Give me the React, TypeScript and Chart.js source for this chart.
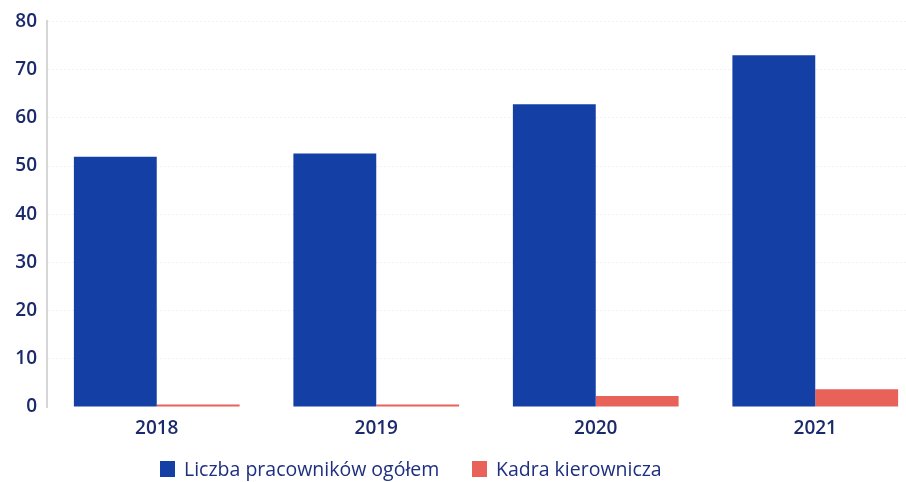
import React, { useEffect, useRef } from "react";
import { Chart, registerables } from "chart.js";

Chart.register(...registerables);

const categories = ["2018", "2019", "2020", "2021"];
const totalEmployees = [51.9, 52.6, 62.8, 73.0];
const management = [0.5, 0.5, 2.3, 3.7];
const seriesNames = ["Liczba pracowników ogółem", "Kadra kierownicza"];
const yTicks = [0, 10, 20, 30, 40, 50, 60, 70, 80];

const BLUE = "#1440a6";
const RED = "#e8625a";
const NAVY = "#1b2a6b";

export default function App() {
  const ref = useRef<HTMLCanvasElement | null>(null);

  useEffect(() => {
    if (!ref.current) return;
    const chart = new Chart(ref.current, {
      type: "bar",
      data: {
        labels: categories,
        datasets: [
          {
            label: seriesNames[0],
            data: totalEmployees,
            backgroundColor: BLUE,
            borderWidth: 0,
            categoryPercentage: 0.755,
            barPercentage: 1,
          },
          {
            label: seriesNames[1],
            data: management,
            backgroundColor: RED,
            borderWidth: 0,
            categoryPercentage: 0.755,
            barPercentage: 1,
          },
        ],
      },
      options: {
        animation: false,
        responsive: false,
        maintainAspectRatio: false,
        layout: { padding: { top: 20, right: 0, bottom: 0, left: 0 } },
        plugins: {
          legend: { display: false },
          tooltip: { enabled: false },
        },
        scales: {
          x: {
            grid: { display: false, drawTicks: false },
            border: { display: false },
            ticks: {
              color: NAVY,
              padding: 10,
              font: { family: "Open Sans", size: 19, weight: "600" },
            },
            afterFit: (scale: any) => {
              scale.height = 75;
            },
          },
          y: {
            min: 0,
            max: 80,
            afterBuildTicks: (scale: any) => {
              scale.ticks = yTicks.map((v) => ({ value: v }));
            },
            grid: {
              drawTicks: false,
              color: (ctx: any) =>
                ctx.tick && ctx.tick.value === 0 ? "rgba(0,0,0,0)" : "rgba(0,0,0,0.05)",
            },
            border: { display: true, color: "#d6d6d6", dash: [2, 2], width: 2 },
            ticks: {
              color: NAVY,
              padding: 10,
              font: { family: "Open Sans", size: 19, weight: "600" },
            },
            afterFit: (scale: any) => {
              scale.width = 47;
            },
          },
        },
      },
    });
    return () => chart.destroy();
  }, []);

  const legendItem = (color: string, text: string, left: number) => (
    <div
      style={{
        position: "absolute",
        left,
        top: 455,
        display: "flex",
        alignItems: "center",
        fontFamily: "Open Sans",
        fontSize: 19.5,
        fontWeight: 500,
        color: "#1f2f80",
        whiteSpace: "nowrap",
      }}
    >
      <span
        style={{
          display: "inline-block",
          width: 15,
          height: 16,
          background: color,
          marginRight: 9,
        }}
      />
      {text}
    </div>
  );

  return (
    <div
      style={{
        position: "fixed",
        left: 0,
        top: 0,
        width: 925,
        height: 482,
        background: "#fff",
      }}
    >
      <canvas ref={ref} width={925} height={482} style={{ display: "block" }} />
      {legendItem(BLUE, seriesNames[0], 160)}
      {legendItem(RED, seriesNames[1], 472)}
    </div>
  );
}
